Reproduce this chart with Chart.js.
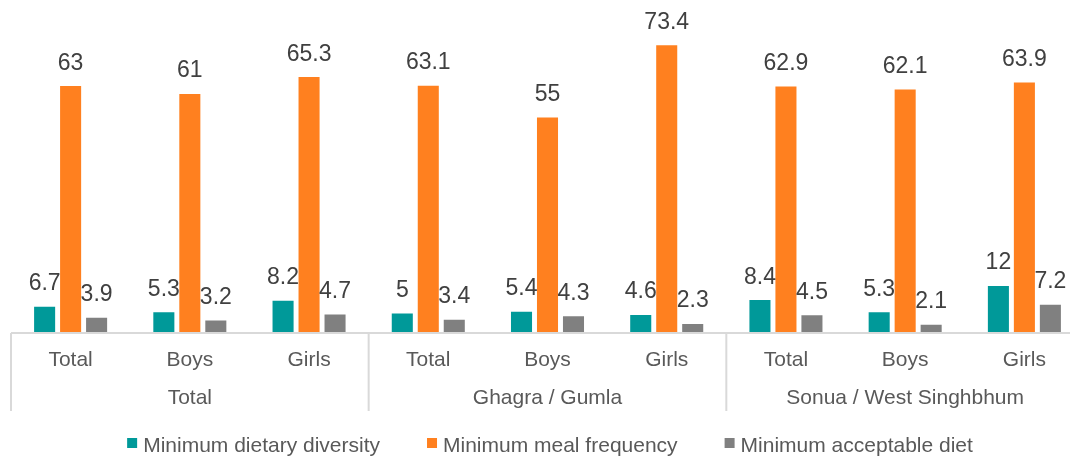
<!DOCTYPE html>
<html>
<head>
<meta charset="utf-8">
<script src="https://cdn.jsdelivr.net/npm/chart.js@4/dist/chart.umd.min.js"></script>
<style>
  html, body { margin: 0; padding: 0; overflow: hidden; background: #ffffff; }
  #wrap { width: 1100px; height: 456px; position: relative; }
</style>
</head>
<body>
<div id="wrap"><canvas id="c" width="1100" height="456"></canvas></div>
<script>
const categories = ['Total', 'Boys', 'Girls', 'Total', 'Boys', 'Girls', 'Total', 'Boys', 'Girls'];
const groups = ['Total', 'Ghagra / Gumla', 'Sonua / West Singhbhum'];
const seriesNames = ['Minimum dietary diversity', 'Minimum meal frequency', 'Minimum acceptable diet'];
const dietaryDiversity = [6.7, 5.3, 8.2, 5, 5.4, 4.6, 8.4, 5.3, 12];
const mealFrequency = [63, 61, 65.3, 63.1, 55, 73.4, 62.9, 62.1, 63.9];
const acceptableDiet = [3.9, 3.2, 4.7, 3.4, 4.3, 2.3, 4.5, 2.1, 7.2];
const colors = ['#009999', '#FF801F', '#808080'];

const FONT = '"Liberation Sans", Arial, sans-serif';

const overlay = {
  id: 'overlay',
  afterDatasetsDraw(chart) {
    const ctx = chart.ctx;
    const x = chart.scales.x;
    const area = chart.chartArea;
    const step = x.getPixelForValue(1) - x.getPixelForValue(0);
    const base = area.bottom;
    ctx.save();
    // data labels
    ctx.font = '23px ' + FONT;
    ctx.fillStyle = '#404040';
    ctx.textAlign = 'center';
    ctx.textBaseline = 'alphabetic';
    chart.data.datasets.forEach((ds, di) => {
      const meta = chart.getDatasetMeta(di);
      meta.data.forEach((bar, i) => {
        ctx.fillText(String(ds.data[i]), bar.x, bar.y - 16.5);
      });
    });
    // axis line
    ctx.strokeStyle = '#d9d9d9';
    ctx.lineWidth = 2;
    ctx.beginPath();
    ctx.moveTo(area.left, base);
    ctx.lineTo(area.right, base);
    ctx.stroke();
    // separators
    for (let g = 0; g <= groups.length; g++) {
      const sx = x.getPixelForValue(g * 3) - step / 2;
      ctx.beginPath();
      ctx.moveTo(sx, base);
      ctx.lineTo(sx, base + 78);
      ctx.stroke();
    }
    // tick labels
    ctx.font = '21px ' + FONT;
    ctx.fillStyle = '#595959';
    categories.forEach((c, i) => {
      ctx.fillText(c, x.getPixelForValue(i), base + 33);
    });
    groups.forEach((g, gi) => {
      const cx = x.getPixelForValue(gi * 3 + 1);
      ctx.fillText(g, cx, base + 71);
    });
    // legend
    ctx.font = '21px ' + FONT;
    const box = 10, gap = 6, spacing = 47;
    const widths = chart.data.datasets.map(d => ctx.measureText(d.label).width);
    const total = widths.reduce((a, b) => a + b, 0) + chart.data.datasets.length * (box + gap) + spacing * (chart.data.datasets.length - 1);
    let lx = chart.width / 2 - total / 2;
    const ly = 451.5;
    ctx.textAlign = 'left';
    chart.data.datasets.forEach((d, i) => {
      ctx.fillStyle = d.backgroundColor;
      ctx.fillRect(lx, ly - 13.5, box, box);
      ctx.fillStyle = '#595959';
      ctx.fillText(d.label, lx + box + gap, ly);
      lx += box + gap + widths[i] + spacing;
    });
    ctx.restore();
  }
};

new Chart(document.getElementById('c'), {
  type: 'bar',
  data: {
    labels: categories,
    datasets: [
      { label: seriesNames[0], data: dietaryDiversity, backgroundColor: colors[0] },
      { label: seriesNames[1], data: mealFrequency, backgroundColor: colors[1] },
      { label: seriesNames[2], data: acceptableDiet, backgroundColor: colors[2] }
    ]
  },
  options: {
    responsive: false,
    animation: false,
    devicePixelRatio: 1,
    categoryPercentage: 0.654,
    barPercentage: 0.81,
    layout: { padding: { left: 11, right: 16, top: 19.4, bottom: 123 } },
    scales: {
      x: { display: false },
      y: { display: false, min: 0, max: 80 }
    },
    plugins: {
      legend: { display: false },
      tooltip: { enabled: false }
    }
  },
  plugins: [overlay]
});
</script>
</body>
</html>
